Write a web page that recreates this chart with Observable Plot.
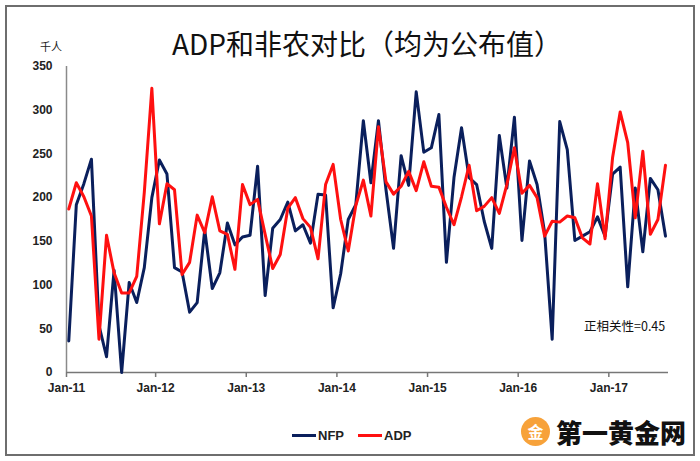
<!DOCTYPE html>
<html>
<head>
<meta charset="utf-8">
<script src="https://cdn.jsdelivr.net/npm/d3@7"></script>
<script src="https://cdn.jsdelivr.net/npm/@observablehq/plot@0.6"></script>
<style>
  html, body { margin: 0; padding: 0; background: #fff; }
  #wrap { position: relative; width: 700px; height: 461px; overflow: hidden; font-family: "Liberation Sans", Arial, sans-serif; }
  #frame { position: absolute; left: 5px; top: 5px; width: 686px; height: 447px; border: 2px solid #6e6e6e; box-sizing: content-box; pointer-events: none; }
  #chart { position: absolute; left: 0; top: 0; }
  .abs { position: absolute; white-space: nowrap; }
  #title { left: 0; width: 734px; top: 25px; text-align: center; font-family: "Noto Sans CJK SC", sans-serif; font-weight: 400; font-size: 28px; line-height: 36px; color: #111; }
  #unit { left: 40px; top: 38px; font-family: "Noto Sans CJK SC", sans-serif; font-size: 11px; color: #222; }
  #note { left: 584px; top: 316px; font-family: "Noto Sans CJK SC", sans-serif; font-size: 12.5px; color: #111; }
  #legend { left: 292px; top: 428px; font-weight: bold; font-size: 13px; color: #222; display: flex; align-items: center; }
  #legend .sw { display: inline-block; width: 24px; height: 3px; margin-right: 2px; }
  #legend .item { display: flex; align-items: center; margin-right: 14px; }
  #logo { left: 521px; top: 413px; display: flex; align-items: center; }
  #logo .circ { width: 29px; height: 29px; border-radius: 50%; background: #f7a23a; color: #fff; font-family: "Noto Sans CJK SC", sans-serif; font-weight: 700; font-size: 16px; line-height: 29px; text-align: center; margin-right: 6px; }
  #logo .txt { font-family: "Noto Sans CJK SC", sans-serif; font-weight: 900; font-size: 26px; color: #111; }
</style>
</head>
<body>
<div id="wrap">
  <div id="chart"></div>
  <div id="frame"></div>
  <div class="abs" id="title">ADP和非农对比（均为公布值）</div>
  <div class="abs" id="unit">千人</div>
  <div class="abs" id="note">正相关性=0.45</div>
  <div class="abs" id="legend"></div>
  <div class="abs" id="logo"><div class="circ">金</div><div class="txt">第一黄金网</div></div>
</div>
<script>
// Monthly values, Jan 2011 – Aug 2017 (thousands)
const nfp = [
  36, 192, 216, 244, 54, 18, 117, 0, 103, 80, 120, 200,
  243, 227, 120, 115, 69, 80, 163, 96, 114, 171, 146, 155,
  157, 236, 88, 165, 175, 195, 162, 169, 148, 204, 203, 74,
  113, 175, 192, 288, 217, 288, 209, 142, 248, 214, 321, 252,
  257, 295, 126, 223, 280, 223, 215, 173, 142, 271, 211, 292,
  151, 242, 215, 160, 38, 287, 255, 151, 156, 161, 178, 156,
  227, 235, 98, 211, 138, 222, 209, 156
];
const adp = [
  187, 217, 201, 179, 38, 157, 114, 91, 91, 110, 206, 325,
  170, 216, 209, 112, 126, 180, 160, 201, 162, 158, 118, 215,
  192, 198, 158, 119, 135, 188, 200, 176, 166, 130, 215, 238,
  175, 139, 191, 220, 179, 281, 218, 204, 213, 230, 208, 241,
  213, 212, 189, 169, 201, 237, 185, 190, 200, 182, 215, 257,
  205, 214, 200, 156, 173, 172, 179, 177, 154, 147, 216, 153,
  246, 298, 263, 177, 253, 158, 175, 237
];
const seriesNames = ["NFP", "ADP"];
const seriesColors = ["#0a1f5c", "#ff1010"];
const xTickLabels = ["Jan-11", "Jan-12", "Jan-13", "Jan-14", "Jan-15", "Jan-16", "Jan-17"];
const yTicks = [0, 50, 100, 150, 200, 250, 300, 350];

const rows = [];
nfp.forEach((v, i) => rows.push({i, series: "NFP", value: v}));
adp.forEach((v, i) => rows.push({i, series: "ADP", value: v}));

const x0 = -0.3, x1 = 79.4;
const tickPos = xTickLabels.map((_, k) => Math.max(12 * k - 0.5, x0));

const chart = Plot.plot({
  width: 700,
  height: 461,
  marginLeft: 66,
  marginRight: 32,
  marginTop: 66,
  marginBottom: 89,
  style: {background: "transparent", fontFamily: "'Liberation Sans', Arial, sans-serif"},
  x: {domain: [x0, x1], axis: null, label: null},
  y: {domain: [0, 350], axis: null, label: null},
  color: {domain: seriesNames, range: seriesColors},
  marks: [
    Plot.axisY({ticks: yTicks, label: null, tickSize: 0, tickPadding: 14, fontWeight: "bold", fontSize: 12, fill: "#222"}),
    Plot.axisX({ticks: tickPos, label: null, tickFormat: (d) => xTickLabels[tickPos.indexOf(d)], tickSize: 5, tickPadding: 6, fontWeight: "bold", fontSize: 12, fill: "#222", stroke: "#777", strokeWidth: 1.5}),
    Plot.ruleX([x0], {stroke: "#8a8a8a", strokeWidth: 1.5}),
    Plot.ruleY([0], {stroke: "#777", strokeWidth: 1.5}),
    Plot.line(rows, {x: "i", y: "value", z: "series", stroke: "series", strokeWidth: 3, strokeLinejoin: "round"})
  ]
});
document.getElementById("chart").appendChild(chart);

const legend = document.getElementById("legend");
seriesNames.forEach((name, k) => {
  const item = document.createElement("div");
  item.className = "item";
  const sw = document.createElement("span");
  sw.className = "sw";
  sw.style.background = seriesColors[k];
  item.appendChild(sw);
  const t = document.createElement("span");
  t.textContent = name;
  item.appendChild(t);
  legend.appendChild(item);
});
</script>
</body>
</html>
